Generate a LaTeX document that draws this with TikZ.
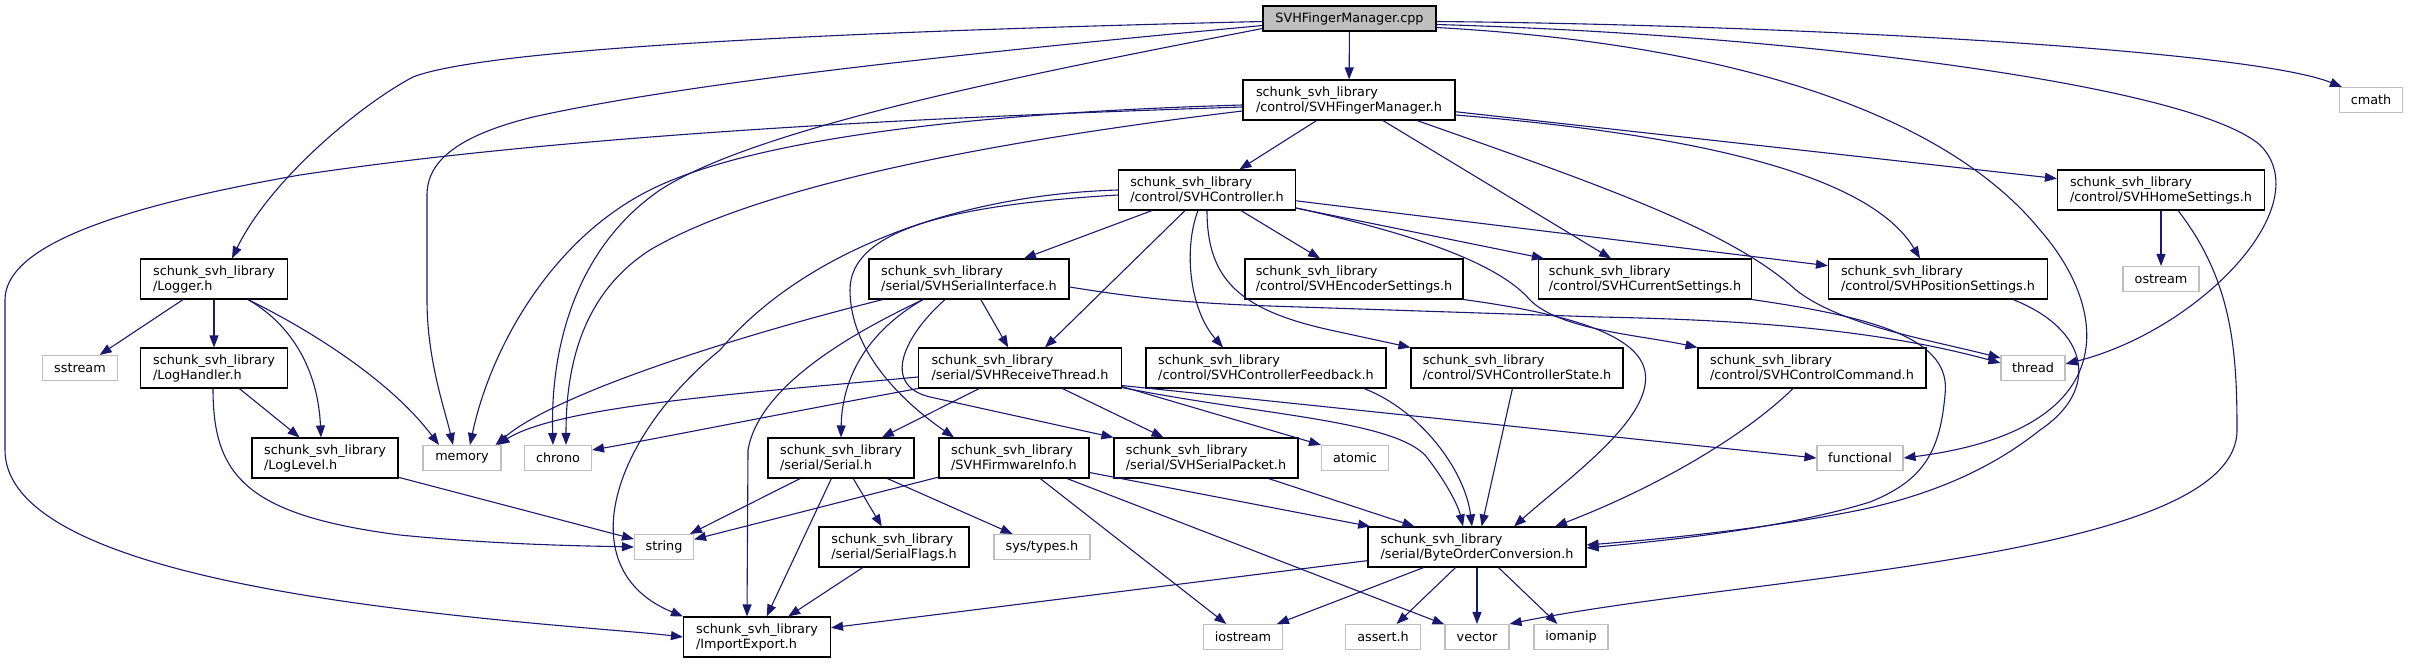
\documentclass[tikz,border=0pt]{standalone}
\usepackage{fontspec}
\setmainfont{DejaVu Sans}
\usetikzlibrary{arrows.meta}
\definecolor{edgeblue}{HTML}{191970}
\definecolor{grey75}{HTML}{BFBFBF}
\def\svhlib{schunk\_svh\_library}

\begin{document}
\begin{tikzpicture}[x=1pt, y=-1pt,
	every node/.style={font=\fontsize{12.8}{15}\selectfont, inner sep=0pt},
	hdrnode/.style={draw=black, line width=1.1pt, fill=white, align=left, minimum height=40pt},
	sysnode/.style={draw=grey75, line width=1.1pt, fill=white, minimum height=25pt},
	rootnode/.style={draw=black, line width=1.1pt, fill=grey75, minimum height=25pt},
	incl/.style={draw=edgeblue, line width=1.1pt, -{Triangle[length=12pt, width=9pt]}}]
	\useasboundingbox (0,0) rectangle (2409,663);

	\node[rootnode, minimum width=173pt] (cpp) at (1349.5,18.5) {SVHFingerManager.cpp};
	\node[hdrnode, minimum width=212pt] (fm) at (1349,100) {\svhlib\\/control/SVHFingerManager.h};
	\node[hdrnode, minimum width=177pt] (ctrl) at (1207,190) {\svhlib\\/control/SVHController.h};
	\node[hdrnode, minimum width=207pt] (home) at (2161,190) {\svhlib\\/control/SVHHomeSettings.h};
	\node[sysnode, minimum width=63pt] (cmath) at (2371,100) {cmath};

	\node[hdrnode, minimum width=147pt] (logger) at (214,279) {\svhlib\\/Logger.h};
	\node[hdrnode, minimum width=200pt] (serif) at (969,279) {\svhlib\\/serial/SVHSerialInterface.h};
	\node[hdrnode, minimum width=218pt] (enc) at (1354,279) {\svhlib\\/control/SVHEncoderSettings.h};
	\node[hdrnode, minimum width=213pt] (cur) at (1645,279) {\svhlib\\/control/SVHCurrentSettings.h};
	\node[hdrnode, minimum width=219pt] (pos) at (1938,279) {\svhlib\\/control/SVHPositionSettings.h};
	\node[sysnode, minimum width=76pt] (ostream) at (2161,279) {ostream};

	\node[sysnode, minimum width=75pt] (sstream) at (80,368) {sstream};
	\node[hdrnode, minimum width=147pt] (loghdl) at (214,368) {\svhlib\\/LogHandler.h};
	\node[hdrnode, minimum width=203pt] (rcv) at (1020,368) {\svhlib\\/serial/SVHReceiveThread.h};
	\node[hdrnode, minimum width=240pt] (fb) at (1266,368) {\svhlib\\/control/SVHControllerFeedback.h};
	\node[hdrnode, minimum width=212pt] (state) at (1517,368) {\svhlib\\/control/SVHControllerState.h};
	\node[hdrnode, minimum width=228pt] (cmd) at (1812,368) {\svhlib\\/control/SVHControlCommand.h};
	\node[sysnode, minimum width=64pt] (thread) at (2033,368) {thread};

	\node[hdrnode, minimum width=146pt] (loglvl) at (325,458) {\svhlib\\/LogLevel.h};
	\node[sysnode, minimum width=78pt] (memory) at (462,458) {memory};
	\node[sysnode, minimum width=67pt] (chrono) at (558,458) {chrono};
	\node[hdrnode, minimum width=146pt] (serial) at (841,458) {\svhlib\\/serial/Serial.h};
	\node[hdrnode, minimum width=150pt] (fw) at (1014,458) {\svhlib\\/SVHFirmwareInfo.h};
	\node[hdrnode, minimum width=184pt] (pkt) at (1206,458) {\svhlib\\/serial/SVHSerialPacket.h};
	\node[sysnode, minimum width=67pt] (atomic) at (1355,458) {atomic};
	\node[sysnode, minimum width=86pt] (functional) at (1860,458) {functional};

	\node[sysnode, minimum width=59pt] (string) at (664,547) {string};
	\node[hdrnode, minimum width=150pt] (flags) at (894,547) {\svhlib\\/serial/SerialFlags.h};
	\node[sysnode, minimum width=96pt] (systypes) at (1042,547) {sys/types.h};
	\node[hdrnode, minimum width=218pt] (boc) at (1477,547) {\svhlib\\/serial/ByteOrderConversion.h};

	\node[hdrnode, minimum width=147pt] (impexp) at (757,637) {\svhlib\\/ImportExport.h};
	\node[sysnode, minimum width=79pt] (iostream) at (1243,637) {iostream};
	\node[sysnode, minimum width=75pt] (assert) at (1383,637) {assert.h};
	\node[sysnode, minimum width=64pt] (vector) at (1477,637) {vector};
	\node[sysnode, minimum width=74pt] (iomanip) at (1571,637) {iomanip};

	% SVHFingerManager.cpp
	\draw[incl] (cpp) -- (fm);
	\draw[incl] ([yshift=-3pt]cpp.west) .. controls (700,35) and (470,55) .. (413,77) .. controls (360,105) and (270,180) .. ([xshift=18pt]logger.north);
	\draw[incl] ([yshift=-7pt]cpp.west) .. controls (1000,50) and (700,80) .. (533,117) .. controls (460,135) and (427,160) .. (427,195) -- (427,300) .. controls (427,360) and (445,410) .. ([xshift=-9pt]memory.north);
	\draw[incl] ([yshift=-10pt]cpp.west) .. controls (1050,70) and (760,125) .. (660,190) .. controls (580,245) and (550,340) .. ([xshift=-5pt]chrono.north);
	\draw[incl] ([yshift=-3pt]cpp.east) .. controls (1800,25) and (2250,50) .. ([xshift=3pt]cmath.north west);
	\draw[incl] ([yshift=-6pt]cpp.east) .. controls (1800,35) and (2190,85) .. (2260,145) .. controls (2320,205) and (2200,330) .. ([yshift=4pt]thread.east);
	\draw[incl] ([yshift=-9pt]cpp.east) .. controls (1750,45) and (1950,120) .. (2040,230) .. controls (2110,310) and (2125,430) .. (functional.east);

	% SVHFingerManager.h
	\draw[incl] (fm) -- (ctrl);
	\draw[incl] (fm) -- (cur);
	\draw[incl] (fm) -- (home);
	\draw[incl] ([yshift=-15pt]fm.east) .. controls (1700,135) and (1870,175) .. ([xshift=-18pt]pos.north);
	\draw[incl] ([xshift=68pt]fm.south) .. controls (1600,185) and (1730,230) .. (1796,290) .. controls (1840,325) and (1930,340) .. ([yshift=-3pt]thread.north west);
	\draw[incl] ([yshift=-7pt]fm.west) .. controls (1000,115) and (600,130) .. (300,175) .. controls (100,210) and (5,250) .. (5,300) -- (5,450) .. controls (5,560) and (300,600) .. (500,620) .. controls (580,628) and (640,632) .. (impexp.west);
	\draw[incl] ([yshift=-5pt]fm.west) .. controls (1000,112) and (760,135) .. (650,190) .. controls (550,240) and (490,350) .. ([xshift=8pt]memory.north);
	\draw[incl] ([yshift=-11pt]fm.west) .. controls (1000,140) and (760,185) .. (650,250) .. controls (580,295) and (566,370) .. ([xshift=8pt]chrono.north);

	% SVHController.h
	\draw[incl] (ctrl) -- (serif);
	\draw[incl] ([xshift=-22pt]ctrl.south) -- ([xshift=25pt]rcv.north);
	\draw[incl] ([xshift=-9pt]ctrl.south) .. controls (1183,250) and (1190,310) .. ([xshift=-43pt]fb.north);
	\draw[incl] (ctrl.south) .. controls (1207,280) and (1240,310) .. (1330,330) -- (state.north west);
	\draw[incl] (ctrl) -- (enc);
	\draw[incl] (ctrl) -- (cur);
	\draw[incl] (ctrl) -- (pos);
	\draw[incl] ([yshift=-18pt]ctrl.east) .. controls (1420,235) and (1500,265) .. (1530,300) .. controls (1560,330) and (1640,335) .. (cmd.north west);
	\draw[incl] ([yshift=-5pt]ctrl.west) .. controls (950,205) and (850,230) .. (850,290) .. controls (850,350) and (900,400) .. ([xshift=-60pt]fw.north);
	\draw[incl] (ctrl.west) .. controls (950,195) and (800,255) .. (720,350) .. controls (610,440) and (570,570) .. (impexp.north west);

	% SVHSerialInterface.h
	\draw[incl] ([xshift=-86pt]serif.south) .. controls (760,330) and (560,390) .. ([xshift=-6pt]memory.north east);
	\draw[incl] ([xshift=-46pt]serif.south) .. controls (870,330) and (842,375) .. (serial.north);
	\draw[incl] ([xshift=-46pt]serif.south) .. controls (870,325) and (760,380) .. (748,450) -- ([xshift=-10pt]impexp.north);
	\draw[incl] ([xshift=-24pt]serif.south) .. controls (905,335) and (880,385) .. (930,397) -- (pkt.north west);
	\draw[incl] (serif) -- (rcv);
	\draw[incl] ([yshift=-8pt]serif.east) .. controls (1150,300) and (1200,304) .. (1300,307) -- (1600,317) .. controls (1750,320) and (1880,330) .. ([yshift=5pt]thread.west);

	% SVHReceiveThread.h
	\draw[incl] ([yshift=-9pt]rcv.west) .. controls (760,392) and (560,405) .. ([xshift=-4pt]memory.north east);
	\draw[incl] (rcv.south west) .. controls (800,410) and (650,440) .. ([yshift=8pt]chrono.east);
	\draw[incl] (rcv) -- (serial);
	\draw[incl] (rcv) -- (pkt);
	\draw[incl] ([yshift=2pt]rcv.south east) -- (atomic.north west);
	\draw[incl] ([yshift=1pt]rcv.south east) .. controls (1260,415) and (1390,420) .. (1425,455) .. controls (1445,480) and (1458,505) .. ([xshift=-14pt]boc.north);
	\draw[incl] ([yshift=3pt]rcv.south east) -- (functional.west);

	% control headers down to ByteOrderConversion.h
	\draw[incl] ([xshift=98pt]fb.south) .. controls (1420,410) and (1465,470) .. ([xshift=-5pt]boc.north);
	\draw[incl] (state) -- (boc);
	\draw[incl] (enc.south east) .. controls (1600,318) and (1652,345) .. (1645,385) .. controls (1638,430) and (1560,485) .. ([xshift=37pt]boc.north);
	\draw[incl] ([xshift=-19pt]cmd.south) .. controls (1740,440) and (1650,490) .. ([xshift=78pt]boc.north);
	\draw[incl] (cur.south east) .. controls (1880,318) and (1952,340) .. (1945,395) .. controls (1940,450) and (1925,480) .. (1870,502) .. controls (1780,530) and (1650,542) .. ([yshift=-1pt]boc.east);
	\draw[incl] ([xshift=75pt]pos.south) .. controls (2090,330) and (2100,390) .. (2040,430) .. controls (1990,470) and (1930,495) .. (1860,510) .. controls (1760,530) and (1650,540) .. ([yshift=2pt]boc.east);
	\draw[incl] (home) -- (ostream);
	\draw[incl] ([xshift=17pt]home.south) .. controls (2232,280) and (2237,350) .. (2237,430) .. controls (2237,560) and (1750,575) .. (vector.north east);

	% Logger.h
	\draw[incl] (logger) -- (sstream);
	\draw[incl] (logger) -- (loghdl);
	\draw[incl] ([xshift=34pt]logger.south) .. controls (292,325) and (318,370) .. ([xshift=-4pt]loglvl.north);
	\draw[incl] ([xshift=34pt]logger.south) .. controls (310,330) and (390,380) .. ([xshift=-23pt]memory.north);
	\draw[incl] (loghdl) -- (loglvl);
	\draw[incl] ([xshift=-1pt]loghdl.south) .. controls (213,475) and (245,515) .. (400,535) .. controls (500,545) and (590,546) .. (string.west);
	\draw[incl] (loglvl) -- (string);

	% serial headers
	\draw[incl] (serial) -- (string);
	\draw[incl] (serial) -- (flags);
	\draw[incl] (serial) -- (systypes);
	\draw[incl] (serial) -- (impexp);
	\draw[incl] (flags) -- (impexp);
	\draw[incl] (fw) -- (string);
	\draw[incl] (fw) -- (boc);
	\draw[incl] (fw) -- (iostream);
	\draw[incl] (fw) -- (vector);
	\draw[incl] (pkt) -- (boc);

	% ByteOrderConversion.h
	\draw[incl] (boc) -- (impexp);
	\draw[incl] (boc) -- (iostream);
	\draw[incl] (boc) -- (assert);
	\draw[incl] (boc) -- (vector);
	\draw[incl] (boc) -- (iomanip);
\end{tikzpicture}
\end{document}
